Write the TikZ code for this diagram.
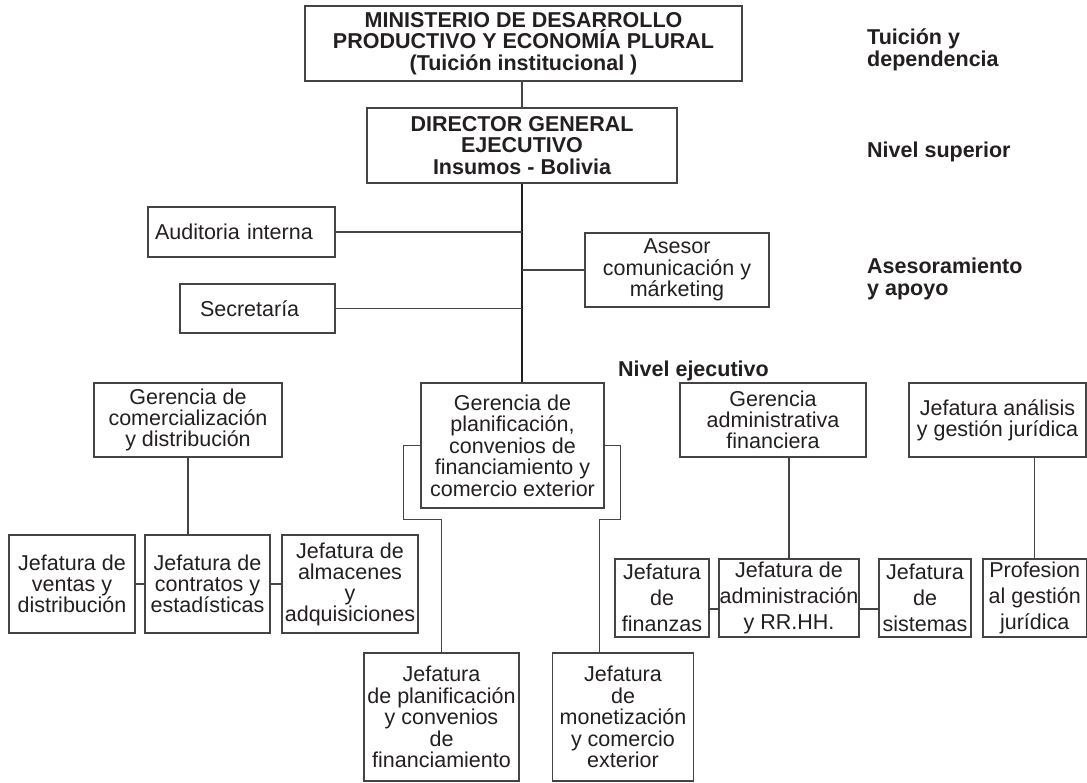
\documentclass[tikz,border=0pt]{standalone}
\usepackage{fontspec}
\setmainfont{Liberation Sans}

\definecolor{ink}{HTML}{231F20}
\definecolor{rule}{HTML}{444444}

\tikzset{
  cell/.style 2 args={draw=rule, line width=1.1pt, text=ink, inner sep=1pt, align=center,
    minimum width=#1pt, minimum height=#2pt, lead=20.8},
  lead/.style={font=\fontsize{21.5}{#1}\selectfont},
  head/.style={font=\fontsize{21.5}{#1}\selectfont\bfseries},
  tag/.style={text=ink, anchor=west, align=left, inner sep=0pt, head=21.5},
  link/.style={draw=rule, line width=1.3pt},
  trunk/.style={draw=ink, line width=1.8pt},
}

\begin{document}
\begin{tikzpicture}[x=1pt, y=-1pt]
  \useasboundingbox (0,0) rectangle (1087,783);

  %% upper levels
  \node[cell={437}{75}, head=21.5] (mdp) at (523.5,43.5)
    {MINISTERIO DE DESARROLLO\\PRODUCTIVO Y ECONOMÍA PLURAL\\(Tuición institucional )};
  \node[cell={310}{75}, head=21.7] (dge) at (522,145.5)
    {DIRECTOR GENERAL\\EJECUTIVO\\Insumos - Bolivia};

  %% staff
  \node[cell={187}{50}, align=left, text width=173pt, inner xsep=7pt] (aud) at (241.5,232) {Auditoria interna};
  \node[cell={155}{49}, align=left, text width=115pt, inner xsep=20pt] (sec) at (257.5,308.5) {Secretaría};
  \node[cell={184}{74}, lead=21.5] (ase) at (677,270) {Asesor\\comunicación y\\márketing};

  %% gerencias
  \node[cell={188}{74}, lead=21] (gcd) at (188,420) {Gerencia de\\comercialización\\y distribución};
  \node[cell={183}{125}, lead=21.5] (gpc) at (512.5,445.5)
    {Gerencia de\\planificación,\\convenios de\\financiamiento y\\comercio exterior};
  \node[cell={186}{74}] (gaf) at (773,420) {Gerencia\\administrativa\\financiera};
  \node[cell={177}{74}, lead=21] (jag) at (997.5,420) {Jefatura análisis\\y gestión jurídica};

  %% jefaturas
  \node[cell={126}{98}, lead=21] (jvd) at (72,584) {Jefatura de\\ventas y\\distribución};
  \node[cell={125}{98}, lead=21] (jce) at (207.5,584) {Jefatura de\\contratos y\\estadísticas};
  \node[cell={136}{98}, lead=21] (jaa) at (350,584) {Jefatura de\\almacenes\\y\\adquisiciones};
  \node[cell={155}{128}, lead=21.5] (jpf) at (441.5,717)
    {Jefatura\\de planificación\\y convenios\\de\\financiamiento};
  \node[cell={141}{128}, lead=21.5] (jmc) at (623,717) {Jefatura\\de\\monetización\\y comercio\\exterior};
  \node[cell={94}{78}, lead=26] (jfi) at (662,598) {Jefatura\\de\\finanzas};
  \node[cell={140}{78}, lead=26, inner sep=0pt] (jar) at (789,598) {Jefatura de\\administración\\y RR.HH.};
  \node[cell={92}{78}, lead=26] (jsi) at (925,598) {Jefatura\\de\\sistemas};
  \node[cell={103.5}{78}, lead=26] (pgj) at (1034.75,598) {Profesion\\al gestión\\jurídica};

  %% level tags
  \node[tag] (tyd) at (867,50) {Tuición y\\dependencia};
  \node[tag] (nsu) at (867,152) {Nivel superior};
  \node[tag] (asa) at (867,279) {Asesoramiento\\y apoyo};
  \node[tag] (nej) at (618,371) {Nivel ejecutivo};

  %% connectors
  \draw[link] (dge.north |- mdp.south) -- (dge.north);
  \draw[trunk] (dge.south) -- (dge.south |- gpc.north); %% DGE->GPC
  \draw[link] (aud.east) -- (aud.east -| dge.south);
  \draw[link] (sec.east) -- (sec.east -| dge.south);
  \draw[link] (ase.west) -- (ase.west -| dge.south);

  \draw[link] (gcd.south) -- (gcd.south |- jce.north);
  \draw[link] (jvd.east) -- (jce.west);
  \draw[link] (jce.east) -- (jaa.west);

  \draw[link] (gpc.west) -| ++(-17,74) -| (jpf.north); %% GPC->JPF
  \draw[link] (gpc.east) -| ++(16,74) -| ([xshift=-5pt]gpc.east |- jmc.north); %% GPC->JMC

  \draw[link] (jar.north |- gaf.south) -- (jar.north);
  \draw[link] ([yshift=-11pt]jfi.east) -- ([yshift=-11pt]jar.west);
  \draw[link] ([yshift=-11pt]jar.east) -- ([yshift=-11pt]jsi.west);
  \draw[link] (pgj.north |- jag.south) -- (pgj.north);
\end{tikzpicture}
\end{document}
